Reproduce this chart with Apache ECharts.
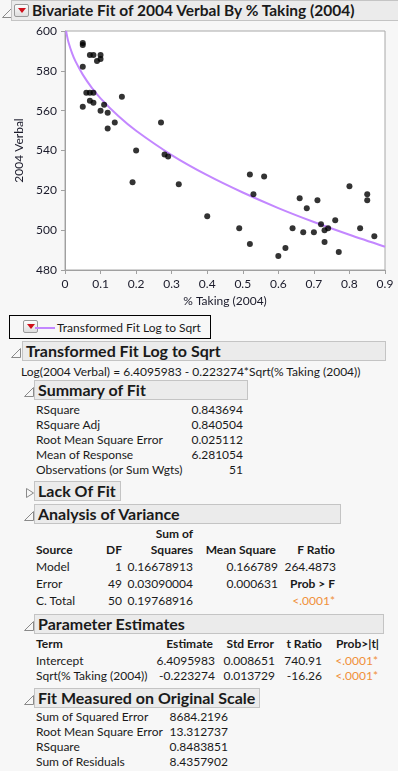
<!DOCTYPE html>
<html>
<head>
<meta charset="utf-8">
<script src="https://cdn.jsdelivr.net/npm/echarts@6/dist/echarts.min.js"></script>
<style>
  html, body { margin: 0; padding: 0; background: #f7f7f7; }
  body { width: 398px; height: 771px; position: relative; overflow: hidden;
         font-family: Lato, sans-serif; font-size: 12px; color: #1a1a1a; }
  #chart { position: absolute; left: 0; top: 22px; width: 398px; height: 290px; }
  .t { position: absolute; white-space: nowrap; line-height: 14px; }
  .r { text-align: right; }
  .b { font-weight: bold; }
  .hdr { position: absolute; background: #ebebeb; border: 1px solid #c4c4c4; box-sizing: border-box;
         font-weight: bold; font-size: 16px; line-height: 18px; padding-left: 3px; white-space: nowrap; }
  .tri { position: absolute; }
  .org { color: #f0903a; }
  .btn { position: absolute; width: 13px; height: 11px; border: 1px solid #9a9a9a; border-radius: 2px;
         background: linear-gradient(#fdfdfd, #dedede); }
  .btn:after { content: ""; position: absolute; left: 3px; top: 3px; border-left: 4px solid transparent;
         border-right: 4px solid transparent; border-top: 5px solid #d0101a; }
</style>
</head>
<body>
<div class="tri" style="left:2px;top:6px"><svg width="10" height="10"><polygon points="0.5,9.5 9.5,9.5 9.5,0.5" fill="none" stroke="#8a8a8a"/></svg></div>
<div class="hdr" style="left:11px;top:0px;width:390px;height:21px;padding-left:20px;line-height:19px;font-size:15.5px">Bivariate Fit of 2004 Verbal By % Taking (2004)</div>
<div class="btn" style="left:14px;top:4px"></div>
<div id="chart"></div>

<div style="position:absolute;left:9px;top:315px;width:202px;height:24px;border:1px solid #000;box-sizing:border-box"></div>
<div class="btn" style="left:23px;top:320px"></div>
<div style="position:absolute;left:35px;top:327px;width:20px;height:2px;background:#c387ff"></div>
<div class="t" id="legTxt" style="left:57px;top:321px">Transformed Fit Log to Sqrt</div>

<div id="report"></div>

<script>
// scatter points: % Taking (2004), 2004 Verbal
const pctTaking = [0.05, 0.05, 0.05, 0.05, 0.06, 0.07, 0.08, 0.07, 0.08, 0.09, 0.10, 0.10, 0.07, 0.08, 0.10, 0.11, 0.12,
  0.12, 0.14, 0.16, 0.20, 0.27, 0.28, 0.29, 0.19, 0.32, 0.40, 0.49, 0.52, 0.52, 0.53, 0.56, 0.60, 0.62, 0.64, 0.66,
  0.67, 0.68, 0.70, 0.71, 0.72, 0.73, 0.74, 0.73, 0.76, 0.77, 0.80, 0.83, 0.85, 0.85, 0.87]
const verbal = [594, 593, 582, 562, 569, 569, 569, 588, 588, 585, 588, 586, 565, 564, 560, 563, 559,
  551, 554, 567, 540, 554, 538, 537, 524, 523, 507, 501, 528, 493, 518, 527, 487, 491, 501, 516,
  499, 511, 499, 515, 503, 500, 501, 494, 505, 489, 522, 501, 518, 515, 497]

// transformed fit curve (log to sqrt)
const fitX = [0.0032, 0.005, 0.01, 0.02, 0.03, 0.05, 0.075, 0.1, 0.15, 0.2, 0.3, 0.4, 0.5, 0.6, 0.7, 0.8, 0.9]
const fitY = [600, 598.1, 594.2, 588.8, 584.6, 578.1, 571.6, 566.2, 557.3, 549.9, 537.7, 527.6, 518.9, 511.1, 504.1, 497.7, 491.7]

const xTicks = { min: 0, max: 0.9, interval: 0.1 }
const yTicks = { min: 480, max: 600, interval: 20 }

// report tables
const summaryLabels = ['RSquare', 'RSquare Adj', 'Root Mean Square Error', 'Mean of Response', 'Observations (or Sum Wgts)']
const summaryValues = ['0.843694', '0.840504', '0.025112', '6.281054', '51']

const anovaSource = ['Model', 'Error', 'C. Total']
const anovaDF = ['1', '49', '50']
const anovaSS = ['0.16678913', '0.03090004', '0.19768916']
const anovaMS = ['0.166789', '0.000631', '']

const paramTerms = ['Intercept', 'Sqrt(% Taking (2004))']
const paramEst = ['6.4095983', '-0.223274']
const paramSE = ['0.008651', '0.013729']
const paramT = ['740.91', '-16.26']
const paramP = ['<.0001*', '<.0001*']

const origLabels = ['Sum of Squared Error', 'Root Mean Square Error', 'RSquare', 'Sum of Residuals']
const origValues = ['8684.2196', '13.312737', '0.8483851', '8.4357902']

const chart = echarts.init(document.getElementById('chart'))
const axisTxt = { color: '#1a1a2a', fontSize: 12, fontFamily: 'Lato' }
chart.setOption({
  animation: false,
  backgroundColor: 'transparent',
  grid: { left: 65, top: 9, width: 320, height: 239, show: true, backgroundColor: '#fff', borderColor: '#a8a8a8', borderWidth: 1 },
  xAxis: {
    type: 'value', ...xTicks,
    name: '% Taking (2004)', nameLocation: 'middle', nameGap: 23, nameTextStyle: axisTxt,
    axisLine: { lineStyle: { color: '#a0a0a0' } },
    axisTick: { length: 4, lineStyle: { color: '#a0a0a0' } },
    axisLabel: { ...axisTxt, margin: 8, formatter: v => v === 0 ? '0' : v.toFixed(1) },
    splitLine: { show: false }
  },
  yAxis: {
    type: 'value', ...yTicks,
    name: '2004 Verbal', nameLocation: 'middle', nameGap: 37, nameTextStyle: axisTxt,
    axisLine: { show: true, lineStyle: { color: '#a0a0a0' } },
    axisTick: { show: true, length: 4, lineStyle: { color: '#a0a0a0' } },
    axisLabel: { ...axisTxt, margin: 8 },
    splitLine: { show: false }
  },
  series: [
    {
      type: 'line', data: fitX.map((x, i) => [x, fitY[i]]), smooth: 0.3, showSymbol: false,
      lineStyle: { color: '#c387ff', width: 2 }, clip: true, z: 2
    },
    {
      type: 'scatter', data: pctTaking.map((x, i) => [x, verbal[i]]), symbolSize: 6,
      itemStyle: { color: '#000' }, z: 3
    }
  ]
})

// report part below the chart
const rep = document.getElementById('report')
function txt (s, x, y, cls, right) {
  const d = document.createElement('div')
  d.className = 't ' + (cls || '')
  d.textContent = s
  if (right) { d.style.right = (398 - x) + 'px'; d.classList.add('r') } else d.style.left = x + 'px'
  d.style.top = (y - 7) + 'px'
  rep.appendChild(d)
}
function header (s, x, y, w, open, tx) {
  const tri = document.createElement('div')
  tri.className = 'tri'
  tri.style.left = tx + 'px'
  tri.style.top = (y + 5) + 'px'
  tri.innerHTML = open
    ? '<svg width="10" height="10"><polygon points="0.5,9.5 9.5,9.5 9.5,0.5" fill="none" stroke="#8a8a8a"/></svg>'
    : '<svg width="8" height="10"><polygon points="0.5,0.5 7.5,5 0.5,9.5" fill="none" stroke="#8a8a8a"/></svg>'
  rep.appendChild(tri)
  const h = document.createElement('div')
  h.className = 'hdr'
  h.textContent = s
  Object.assign(h.style, { left: x + 'px', top: y + 'px', width: w + 'px', height: '20px' })
  rep.appendChild(h)
}

header('Transformed Fit Log to Sqrt', 22, 341, 364, true, 11)
txt('Log(2004 Verbal) = 6.4095983 - 0.223274*Sqrt(% Taking (2004))', 21, 372)

header('Summary of Fit', 34, 380, 214, true, 24)
summaryLabels.forEach((s, i) => {
  txt(s, 36, 410 + i * 15)
  txt(summaryValues[i], 243, 410 + i * 15, '', true)
})

header('Lack Of Fit', 34, 481, 87, false, 26)

header('Analysis of Variance', 34, 504, 307, true, 24)
txt('Sum of', 193, 534, 'b', true)
txt('Source', 36, 550, 'b')
txt('DF', 122, 550, 'b', true)
txt('Squares', 193, 550, 'b', true)
txt('Mean Square', 276, 550, 'b', true)
txt('F Ratio', 335, 550, 'b', true)
anovaSource.forEach((s, i) => {
  const y = 567 + i * 16.8
  txt(s, 36, y)
  txt(anovaDF[i], 122, y, '', true)
  txt(anovaSS[i], 193, y, '', true)
  if (anovaMS[i]) txt(anovaMS[i], 278, y, '', true)
})
txt('264.4873', 336, 567, '', true)
txt('Prob > F', 335, 584, 'b', true)
txt('<.0001*', 335, 601, 'org', true)

header('Parameter Estimates', 34, 614, 350, true, 24)
txt('Term', 36, 644, 'b')
txt('Estimate', 213, 644, 'b', true)
txt('Std Error', 274, 644, 'b', true)
txt('t Ratio', 322, 644, 'b', true)
txt('Prob>|t|', 379, 644, 'b', true)
paramTerms.forEach((s, i) => {
  const y = 661 + i * 15
  txt(s, 36, y)
  txt(paramEst[i], 215, y, '', true)
  txt(paramSE[i], 275, y, '', true)
  txt(paramT[i], 322, y, '', true)
  txt(paramP[i], 378, y, 'org', true)
})

header('Fit Measured on Original Scale', 34, 688, 226, true, 24)
origLabels.forEach((s, i) => {
  txt(s, 36, 717 + i * 15)
  txt(origValues[i], 228, 717 + i * 15, '', true)
})
</script>
</body>
</html>
